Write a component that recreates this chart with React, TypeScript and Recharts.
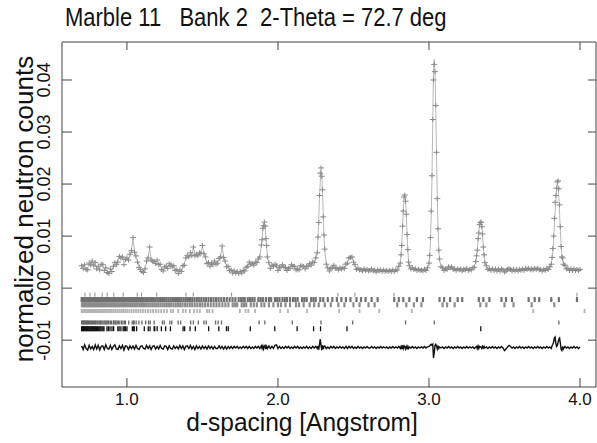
import React from 'react';
import { ComposedChart, Line, Scatter, XAxis, YAxis } from 'recharts';

const FONT = '"Liberation Sans", Arial, Helvetica, sans-serif';
const FRAME = '#444';

const X_DOMAIN: [number, number] = [0.57, 4.106];
const Y_DOMAIN: [number, number] = [-0.019, 0.0473];
const xTicks = [1, 2, 3, 4];
const xTickLabels = ['1.0', '2.0', '3.0', '4.0'];
const yTicks = [-0.01, 0, 0.01, 0.02, 0.03, 0.04];
const yTickLabels = ['-0.01', '0.00', '0.01', '0.02', '0.03', '0.04'];

const TITLE = 'Marble 11   Bank 2  2-Theta = 72.7 deg';
const X_TITLE = 'd-spacing [Angstrom]';
const Y_TITLE = 'normalized neutron counts';

// d-spacing (Angstrom) of profile points
const dSpacing = [
  0.70, 0.71, 0.72, 0.73, 0.74, 0.75, 0.76, 0.77, 0.78, 0.79,
  0.80, 0.81, 0.82, 0.83, 0.84, 0.85, 0.86, 0.87, 0.88, 0.89,
  0.90, 0.91, 0.92, 0.93, 0.94, 0.95, 0.96, 0.97, 0.98, 0.99,
  1.00, 1.01, 1.02, 1.03, 1.04, 1.05, 1.06, 1.07, 1.08, 1.09,
  1.10, 1.11, 1.12, 1.13, 1.14, 1.15, 1.16, 1.17, 1.18, 1.19,
  1.20, 1.21, 1.22, 1.23, 1.24, 1.25, 1.26, 1.27, 1.28, 1.29,
  1.30, 1.31, 1.32, 1.33, 1.34, 1.35, 1.36, 1.37, 1.38, 1.39,
  1.40, 1.41, 1.42, 1.43, 1.44, 1.45, 1.46, 1.47, 1.48, 1.49,
  1.50, 1.51, 1.52, 1.53, 1.54, 1.55, 1.56, 1.57, 1.58, 1.59,
  1.60, 1.61, 1.62, 1.63, 1.64, 1.65, 1.66, 1.67, 1.68, 1.69,
  1.70, 1.71, 1.72, 1.73, 1.74, 1.75, 1.76, 1.77, 1.78, 1.79,
  1.80, 1.81, 1.82, 1.83, 1.84, 1.85, 1.86, 1.87, 1.88, 1.89,
  1.895, 1.90, 1.905, 1.91, 1.915, 1.92, 1.925, 1.93, 1.94, 1.95,
  1.96, 1.97, 1.98, 1.99, 2.00, 2.01, 2.02, 2.03, 2.04, 2.05,
  2.06, 2.07, 2.08, 2.09, 2.10, 2.11, 2.12, 2.13, 2.14, 2.15,
  2.16, 2.17, 2.18, 2.19, 2.20, 2.21, 2.22, 2.23, 2.24, 2.25,
  2.26, 2.265, 2.27, 2.275, 2.28, 2.285, 2.29, 2.295, 2.30, 2.305,
  2.31, 2.32, 2.33, 2.34, 2.35, 2.36, 2.37, 2.38, 2.39, 2.40,
  2.41, 2.42, 2.43, 2.44, 2.45, 2.46, 2.47, 2.48, 2.49, 2.50,
  2.51, 2.52, 2.53, 2.54, 2.55, 2.56, 2.57, 2.58, 2.59, 2.60,
  2.61, 2.62, 2.63, 2.64, 2.65, 2.66, 2.67, 2.68, 2.69, 2.70,
  2.71, 2.72, 2.73, 2.74, 2.75, 2.76, 2.77, 2.78, 2.79, 2.80,
  2.81, 2.815, 2.82, 2.825, 2.83, 2.835, 2.84, 2.845, 2.85, 2.855,
  2.86, 2.865, 2.87, 2.88, 2.89, 2.90, 2.91, 2.92, 2.93, 2.94,
  2.95, 2.96, 2.97, 2.98, 2.99, 3.00, 3.005, 3.01, 3.015, 3.02,
  3.025, 3.03, 3.035, 3.04, 3.045, 3.05, 3.055, 3.06, 3.065, 3.07,
  3.08, 3.09, 3.10, 3.11, 3.12, 3.13, 3.14, 3.15, 3.16, 3.17,
  3.18, 3.19, 3.20, 3.21, 3.22, 3.23, 3.24, 3.25, 3.26, 3.27,
  3.28, 3.29, 3.30, 3.31, 3.315, 3.32, 3.325, 3.33, 3.335, 3.34,
  3.345, 3.35, 3.355, 3.36, 3.365, 3.37, 3.38, 3.39, 3.40, 3.41,
  3.42, 3.43, 3.44, 3.45, 3.46, 3.47, 3.48, 3.49, 3.50, 3.51,
  3.52, 3.53, 3.54, 3.55, 3.56, 3.57, 3.58, 3.59, 3.60, 3.61,
  3.62, 3.63, 3.64, 3.65, 3.66, 3.67, 3.68, 3.69, 3.70, 3.71,
  3.72, 3.73, 3.74, 3.75, 3.76, 3.77, 3.78, 3.79, 3.80, 3.81,
  3.815, 3.82, 3.825, 3.83, 3.835, 3.84, 3.845, 3.85, 3.855, 3.86,
  3.865, 3.87, 3.875, 3.88, 3.885, 3.89, 3.90, 3.91, 3.92, 3.93,
  3.94, 3.95, 3.96, 3.97, 3.98, 3.99, 4.00,
];

// calculated profile, in units of 1e-4 normalized counts
const calcE4 = [
  40, 42, 40, 38, 40, 44, 48, 50, 47, 44,
  40, 38, 40, 44, 42, 38, 34, 32, 31, 33,
  36, 40, 44, 48, 54, 58, 60, 56, 50, 52,
  56, 58, 62, 74, 94, 72, 58, 52, 44, 34,
  29, 32, 40, 48, 60, 76, 58, 50, 48, 50,
  52, 48, 42, 38, 36, 38, 40, 42, 44, 46,
  44, 40, 36, 33, 31, 31, 34, 40, 48, 56,
  60, 62, 64, 66, 77, 66, 62, 64, 66, 70,
  79, 68, 58, 50, 46, 44, 46, 48, 50, 48,
  50, 54, 62, 79, 62, 50, 44, 40, 36, 33,
  31, 31, 30, 30, 30, 31, 31, 32, 34, 38,
  44, 48, 48, 46, 46, 48, 50, 54, 62, 80,
  95, 112, 123, 125, 115, 98, 80, 62, 46, 40,
  42, 44, 42, 38, 36, 38, 42, 44, 42, 38,
  35, 36, 40, 44, 44, 40, 36, 35, 37, 42,
  44, 41, 38, 40, 44, 46, 46, 48, 50, 56,
  70, 95, 130, 172, 205, 226, 220, 185, 140, 100,
  72, 48, 38, 35, 36, 40, 42, 40, 37, 36,
  37, 38, 38, 40, 44, 50, 56, 60, 58, 52,
  44, 38, 36, 36, 35, 35, 36, 35, 34, 34,
  35, 35, 34, 34, 33, 34, 34, 33, 33, 34,
  33, 33, 34, 33, 33, 33, 33, 34, 36, 40,
  50, 62, 85, 115, 150, 172, 178, 170, 140, 105,
  72, 52, 42, 38, 37, 37, 36, 36, 35, 35,
  34, 34, 34, 35, 38, 46, 60, 92, 142, 212,
  318, 420, 440, 412, 345, 258, 175, 112, 75, 55,
  42, 38, 36, 36, 37, 39, 40, 40, 38, 36,
  35, 35, 36, 36, 35, 35, 36, 36, 35, 35,
  36, 38, 42, 50, 60, 75, 92, 108, 120, 125,
  126, 120, 102, 80, 62, 50, 42, 38, 36, 35,
  35, 35, 36, 35, 35, 34, 35, 36, 37, 36,
  35, 34, 34, 34, 35, 35, 35, 34, 34, 35,
  36, 36, 37, 37, 36, 36, 36, 37, 37, 37,
  36, 36, 35, 35, 35, 35, 36, 37, 40, 48,
  56, 70, 90, 116, 145, 170, 190, 200, 196, 175,
  142, 110, 84, 66, 56, 49, 42, 38, 37, 36,
  36, 35, 35, 35, 35, 36, 35,
];

// observed minus calculated, in units of 1e-4 normalized counts
const residE4 = [
  3, -4, 5, -2, -5, 4, -3, 2, -4, 5,
  -3, 4, -5, 2, 3, -4, 5, -2, -3, 4,
  -4, 2, 5, -3, -4, 3, -2, 4, -5, 3,
  2, -4, 3, -2, 3, -3, 4, -2, -4, 2,
  3, -2, -3, 4, -2, 3, -4, 2, 3, -3,
  2, -3, 4, -2, -3, 3, 2, -4, 3, -2,
  -3, 3, -2, 2, -3, 4, -2, 3, -4, 2,
  3, -2, 4, -3, 2, -4, 3, -2, 2, -3,
  3, -2, 2, -3, 3, -2, 2, -3, 2, -2,
  -2, 3, -2, 2, -3, 2, -3, 2, -2, 2,
  -2, 2, -1, 2, -2, 1, -2, 2, -1, 2,
  -2, 2, -2, 1, -2, 2, -1, 2, -2, 3,
  -2, 3, -3, 2, 4, -3, 2, -2, 3, -2,
  2, -2, 4, 5, -2, 2, -2, 1, -2, 2,
  -1, 2, -2, 1, -2, 2, -1, 2, -2, 1,
  -2, 1, -1, 2, -2, 1, -2, 2, -1, 2,
  -2, 3, -4, 6, 16, 5, -5, 4, -3, 2,
  3, -2, 1, -2, 2, -1, 2, -2, 1, -1,
  2, -1, 1, -2, 2, -2, 2, -1, 2, -2,
  1, -2, 2, -1, 1, -2, 1, -1, 2, -1,
  -1, 2, -1, 1, -2, 1, -1, 2, -1, 1,
  -1, 1, -2, 1, -1, 2, -1, 1, -1, 2,
  -2, 2, -3, 4, -2, 3, 1, -3, 2, -2,
  2, -2, 1, -1, 2, -1, 1, -2, 1, -1,
  1, -1, 2, -1, 1, 2, 3, 5, 6, 4,
  6, -20, -10, 4, 6, 3, -3, 2, -2, 1,
  -1, 1, -2, 1, -1, 2, -1, 1, -2, 1,
  -1, 2, -1, 1, -2, 1, -1, 2, -1, 1,
  -1, 1, -2, 1, 2, -2, 3, -2, 2, 1,
  1, -2, 2, -1, 2, -1, 1, -2, 1, -1,
  2, -1, 1, -2, 1, -1, 2, -1, -6, -3,
  1, 4, 2, -1, 1, -2, 1, -1, 2, -1,
  1, -2, 1, -1, 2, -1, 1, -2, 1, -1,
  2, -1, 1, -2, 1, -1, 2, -1, 1, -2,
  3, 6, 10, 18, 20, 8, 2, 4, 10, 16,
  18, 8, -4, -6, 2, -3, 2, -1, 1, -2,
  1, -1, 2, -1, 1, -2, 1,
];

const DIFF_OFFSET = -0.0114;

// reflection tick positions (d-spacing) for each phase row
const refA = [0.722, 0.755, 0.788, 0.836, 0.869, 0.913, 0.975, 1.068, 1.097, 1.197, 1.391, 1.439, 1.693, 2.397, 2.51, 2.768, 3.98];
const refB = [
  0.700, 0.707, 0.713, 0.720, 0.726, 0.733, 0.739, 0.746, 0.752, 0.759, 0.765, 0.772, 0.778, 0.785, 0.791, 0.798,
  0.805, 0.812, 0.819, 0.826, 0.833, 0.840, 0.847, 0.855, 0.862, 0.870, 0.877, 0.885, 0.893, 0.901, 0.909, 0.917,
  0.925, 0.933, 0.942, 0.950, 0.958, 0.967, 0.976, 0.985, 0.994, 1.003, 1.012, 1.021, 1.030, 1.040, 1.050, 1.060,
  1.070, 1.080, 1.090, 1.100, 1.111, 1.122, 1.133, 1.144, 1.155, 1.166, 1.178, 1.190, 1.202, 1.214, 1.226, 1.238,
  1.250, 1.262, 1.275, 1.288, 1.300, 1.312, 1.325, 1.338, 1.350, 1.362, 1.376, 1.390, 1.404, 1.418, 1.432, 1.447,
  1.462, 1.476, 1.492, 1.508, 1.523, 1.540, 1.556, 1.573, 1.590, 1.607, 1.625, 1.643, 1.661, 1.680, 1.699, 1.718,
  1.74, 1.755, 1.77, 1.78, 1.80, 1.815, 1.83, 1.845, 1.87, 1.885, 1.90, 1.92, 1.94, 1.955, 1.98, 1.995, 2.01, 2.03,
  2.045, 2.06, 2.08, 2.10, 2.115, 2.13, 2.16, 2.175, 2.19, 2.22, 2.235, 2.25, 2.28, 2.30, 2.33, 2.36, 2.39, 2.42,
  2.45, 2.48, 2.52, 2.55, 2.58, 2.62, 2.66, 2.77, 2.80, 2.83, 2.87, 2.92, 2.96, 3.07, 3.10, 3.14, 3.19, 3.22, 3.33,
  3.36, 3.40, 3.48, 3.51, 3.55, 3.66, 3.70, 3.73, 3.81, 3.86, 3.98,
];
const refC = [
  0.702, 0.709, 0.716, 0.723, 0.730, 0.737, 0.744, 0.751, 0.758, 0.765, 0.772, 0.779, 0.787, 0.795, 0.803, 0.811,
  0.819, 0.827, 0.835, 0.843, 0.851, 0.860, 0.869, 0.878, 0.887, 0.896, 0.905, 0.914, 0.923, 0.933, 0.943, 0.953,
  0.963, 0.973, 0.983, 0.993, 1.004, 1.015, 1.026, 1.037, 1.048, 1.059, 1.070, 1.082, 1.094, 1.106, 1.118, 1.130,
  1.143, 1.156, 1.169, 1.182, 1.195, 1.208, 1.222, 1.236, 1.250, 1.264, 1.278, 1.293, 1.308, 1.323, 1.338, 1.353,
  1.368, 1.384, 1.40, 1.416, 1.432, 1.449, 1.466, 1.483, 1.50, 1.518, 1.536, 1.555, 1.574, 1.593, 1.612, 1.632,
  1.652, 1.672, 1.70, 1.715, 1.73, 1.76, 1.775, 1.79, 1.82, 1.84, 1.86, 1.89, 1.91, 1.94, 1.97, 2.00, 2.02, 2.05,
  2.08, 2.12, 2.14, 2.17, 2.21, 2.24, 2.27, 2.31, 2.35, 2.40, 2.44, 2.50, 2.54, 2.60, 2.64, 2.79, 2.85, 2.90, 2.95,
  3.09, 3.12, 3.17, 3.34, 3.38, 3.50, 3.56, 3.68, 3.83,
];
const refD = [
  0.700, 0.708, 0.716, 0.724, 0.732, 0.740, 0.749, 0.758, 0.767, 0.776, 0.785, 0.794, 0.804, 0.814, 0.824, 0.834,
  0.844, 0.855, 0.866, 0.877, 0.888, 0.900, 0.912, 0.924, 0.936, 0.949, 0.962, 0.975, 0.988, 1.002, 1.016, 1.030,
  1.045, 1.060, 1.075, 1.090, 1.106, 1.122, 1.139, 1.156, 1.173, 1.191, 1.209, 1.227, 1.246, 1.265, 1.29, 1.305,
  1.34, 1.371, 1.389, 1.417, 1.444, 1.465, 1.483, 1.530, 1.545, 1.567, 1.748, 1.786, 1.804, 1.848, 2.015, 2.066,
  2.192, 2.405, 2.54, 2.67, 2.886, 3.69, 4.03,
];
const refE = [
  0.700, 0.704, 0.709, 0.713, 0.718, 0.722, 0.728, 0.732, 0.736, 0.741, 0.745, 0.752, 0.757, 0.763, 0.768, 0.772,
  0.779, 0.786, 0.791, 0.796, 0.803, 0.809, 0.816, 0.822, 0.826, 0.834, 0.841, 0.849, 0.856, 0.863, 0.869, 0.876,
  0.881, 0.891, 0.899, 0.911, 0.914, 0.922, 0.927, 0.935, 0.943, 0.953, 0.965, 0.974, 0.985, 0.990, 1.012, 1.035,
  1.045, 1.047, 1.061, 1.079, 1.099, 1.124, 1.143, 1.154, 1.180, 1.235, 1.247, 1.284, 1.297, 1.339, 1.356, 1.422,
  1.440, 1.473, 1.510, 1.525, 1.587, 1.604, 1.626, 1.875, 1.913, 2.095, 2.285, 2.495, 2.845, 3.035, 3.860,
];
const refF = [
  0.700, 0.704, 0.708, 0.712, 0.716, 0.720, 0.725, 0.730, 0.734, 0.738, 0.743, 0.748, 0.752, 0.757, 0.762, 0.767,
  0.772, 0.777, 0.782, 0.787, 0.792, 0.798, 0.804, 0.810, 0.816, 0.822, 0.828, 0.835, 0.842, 0.848,
  0.868, 0.877, 0.888, 0.901, 0.912, 0.940, 0.948, 0.960, 0.975, 0.982, 0.990, 1.000,
  1.036, 1.045, 1.048, 1.064, 1.115, 1.141, 1.153, 1.180, 1.184, 1.200, 1.228, 1.256, 1.288,
  1.372, 1.382, 1.418, 1.453, 1.541, 1.608, 1.659, 1.671, 1.817, 1.979, 2.127, 2.236, 2.282, 2.457, 3.343,
];

const rowLevels = { A: -0.00125, B: -0.0022, C: -0.0032, D: -0.0044, E: -0.0066, F: -0.0078 };

const n = Math.min(dSpacing.length, calcE4.length, residE4.length);
const profile = dSpacing.slice(0, n).map((d, i) => ({
  d,
  calc: calcE4[i] * 1e-4,
  obs: (calcE4[i] + residE4[i]) * 1e-4,
  diff: residE4[i] * 1e-4 + DIFF_OFFSET,
}));

const rowData = (ds: number[], v: number) => ds.map((d) => ({ d, v }));

const plusShape = (p: any) => {
  if (p.cx == null || p.cy == null) return <g />;
  return (
    <path
      d={`M${p.cx - 3},${p.cy}h6M${p.cx},${p.cy - 2.5}v5`}
      stroke="#8a8a8a"
      strokeWidth={1}
      fill="none"
    />
  );
};

const tickShape = (h: number, color: string, w: number) => (p: any) => {
  if (p.cx == null || p.cy == null) return <g />;
  return <line x1={p.cx} x2={p.cx} y1={p.cy - h / 2} y2={p.cy + h / 2} stroke={color} strokeWidth={w} />;
};

const BottomTick = (p: any) => {
  const i = xTicks.indexOf(p.payload.value);
  return (
    <g>
      <line x1={p.x} x2={p.x} y1={p.y} y2={p.y - 9} stroke={FRAME} strokeWidth={1} />
      <text x={p.x} y={p.y + 18} textAnchor="middle" fontSize={17} fontFamily={FONT} fill="#111">
        {xTickLabels[i]}
      </text>
    </g>
  );
};

const TopTick = (p: any) => (
  <line x1={p.x} x2={p.x} y1={p.y} y2={p.y + 8} stroke={FRAME} strokeWidth={1} />
);

const LeftTick = (p: any) => {
  const i = yTicks.indexOf(p.payload.value);
  const tx = p.x - 12;
  return (
    <g>
      <line x1={p.x} x2={p.x + 10} y1={p.y} y2={p.y} stroke={FRAME} strokeWidth={1} />
      <text
        x={tx}
        y={p.y}
        transform={`rotate(-90 ${tx} ${p.y})`}
        textAnchor="middle"
        fontSize={18}
        fontFamily={FONT}
        fill="#111"
      >
        {yTickLabels[i]}
      </text>
    </g>
  );
};

const RightTick = (p: any) => (
  <line x1={p.x} x2={p.x - 8} y1={p.y} y2={p.y} stroke={FRAME} strokeWidth={1} />
);

export default function App() {
  return (
    <div style={{ position: 'absolute', left: 0, top: 0, width: 597, height: 443, background: '#fff' }}>
      <ComposedChart
        width={597}
        height={443}
        data={profile}
        margin={{ top: 41, right: 0, bottom: 26, left: 0 }}
      >
        <XAxis
          xAxisId="x"
          dataKey="d"
          type="number"
          domain={X_DOMAIN}
          allowDataOverflow
          ticks={xTicks}
          interval={0}
          tickSize={0}
          tickMargin={0}
          tickLine={false}
          tick={BottomTick}
          axisLine={{ stroke: FRAME, strokeWidth: 1 }}
          height={30}
        />
        <XAxis
          xAxisId="xt"
          orientation="top"
          dataKey="d"
          type="number"
          domain={X_DOMAIN}
          allowDataOverflow
          ticks={xTicks}
          interval={0}
          tickSize={0}
          tickMargin={0}
          tickLine={false}
          tick={TopTick}
          axisLine={{ stroke: FRAME, strokeWidth: 1 }}
          height={1}
        />
        <YAxis
          yAxisId="y"
          type="number"
          domain={Y_DOMAIN}
          allowDataOverflow
          ticks={yTicks}
          interval={0}
          tickSize={0}
          tickMargin={0}
          tickLine={false}
          tick={LeftTick}
          axisLine={{ stroke: FRAME, strokeWidth: 1 }}
          width={62}
        />
        <YAxis
          yAxisId="yr"
          orientation="right"
          type="number"
          domain={Y_DOMAIN}
          allowDataOverflow
          ticks={yTicks}
          interval={0}
          tickSize={0}
          tickMargin={0}
          tickLine={false}
          tick={RightTick}
          axisLine={{ stroke: FRAME, strokeWidth: 1 }}
          width={1}
        />
        <Line
          xAxisId="x"
          yAxisId="y"
          dataKey="calc"
          stroke="#b8b8b8"
          strokeWidth={1}
          dot={false}
          isAnimationActive={false}
        />
        <Scatter xAxisId="x" yAxisId="y" dataKey="obs" shape={plusShape} isAnimationActive={false} />
        <Line
          xAxisId="x"
          yAxisId="y"
          dataKey="diff"
          stroke="#111"
          strokeWidth={1.4}
          dot={false}
          isAnimationActive={false}
        />
        <Scatter xAxisId="x" yAxisId="y" data={rowData(refA, rowLevels.A)} dataKey="v" shape={tickShape(4, '#8a8a8a', 1)} isAnimationActive={false} />
        <Scatter xAxisId="x" yAxisId="y" data={rowData(refB, rowLevels.B)} dataKey="v" shape={tickShape(5, '#707070', 2.2)} isAnimationActive={false} />
        <Scatter xAxisId="x" yAxisId="y" data={rowData(refC, rowLevels.C)} dataKey="v" shape={tickShape(5, '#8c8c8c', 2.2)} isAnimationActive={false} />
        <Scatter xAxisId="x" yAxisId="y" data={rowData(refD, rowLevels.D)} dataKey="v" shape={tickShape(4, '#b4b4b4', 1.8)} isAnimationActive={false} />
        <Scatter xAxisId="x" yAxisId="y" data={rowData(refE, rowLevels.E)} dataKey="v" shape={tickShape(4, '#666', 1.3)} isAnimationActive={false} />
        <Scatter xAxisId="x" yAxisId="y" data={rowData(refF, rowLevels.F)} dataKey="v" shape={tickShape(5, '#111', 1.3)} isAnimationActive={false} />
      </ComposedChart>
      <svg
        width={597}
        height={443}
        style={{ position: 'absolute', left: 0, top: 0, pointerEvents: 'none' }}
      >
        <text
          x={0}
          y={0}
          transform="translate(65 26) scale(0.88 1)"
          fontSize={25}
          fontFamily={FONT}
          fill="#111"
          xmlSpace="preserve"
          style={{ whiteSpace: 'pre' }}
        >
          {TITLE}
        </text>
        <text
          x={0}
          y={0}
          transform="translate(302 431) scale(0.98 1)"
          textAnchor="middle"
          fontSize={25}
          fontFamily={FONT}
          fill="#111"
        >
          {X_TITLE}
        </text>
        <text
          x={0}
          y={0}
          transform="translate(33 209) rotate(-90)"
          textAnchor="middle"
          fontSize={26}
          fontFamily={FONT}
          fill="#111"
        >
          {Y_TITLE}
        </text>
      </svg>
    </div>
  );
}
